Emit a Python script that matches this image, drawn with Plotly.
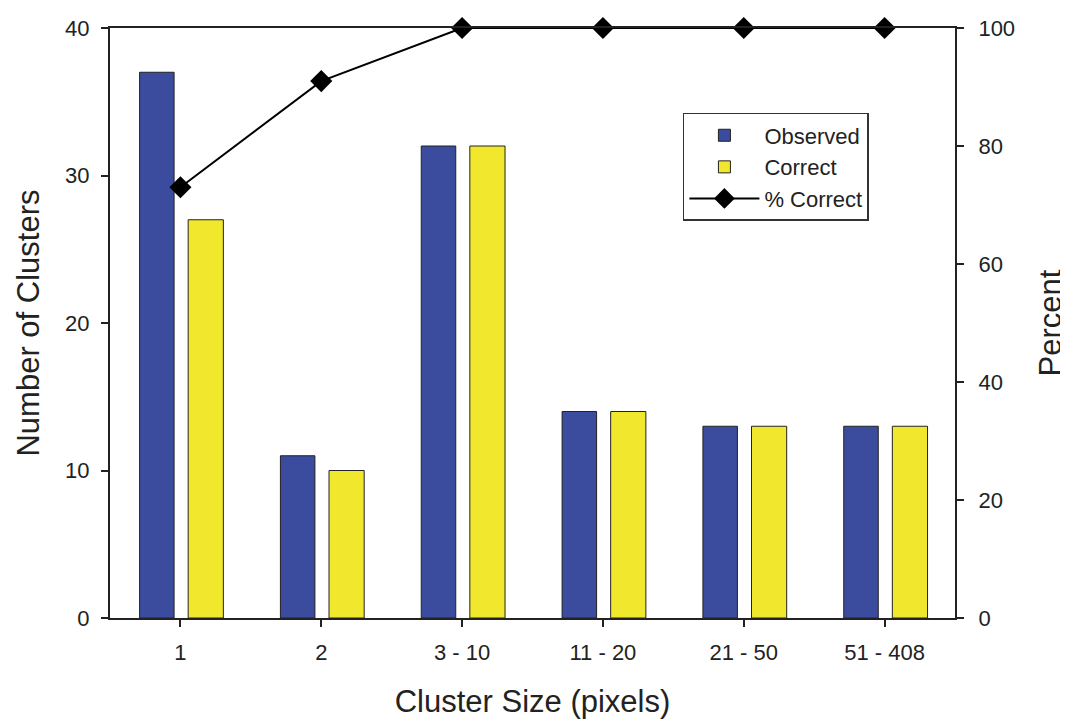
import plotly.graph_objects as go

categories = ["1", "2", "3 - 10", "11 - 20", "21 - 50", "51 - 408"]
observed = [37, 11, 32, 14, 13, 13]
correct = [27, 10, 32, 14, 13, 13]
pct_correct = [73, 91, 100, 100, 100, 100]

FONT = "Liberation Sans, Arial, sans-serif"
AX = "#222"

fig = go.Figure()
fig.add_trace(go.Bar(
    x=categories, y=observed, name="Observed",
    marker=dict(color="#3B4C9E", line=dict(color=AX, width=1)),
    width=0.245, offset=-0.29,
))
fig.add_trace(go.Bar(
    x=categories, y=correct, name="Correct",
    marker=dict(color="#F1E82E", line=dict(color=AX, width=1)),
    width=0.25, offset=0.055,
))
fig.add_trace(go.Scatter(
    x=categories, y=pct_correct, name="% Correct", yaxis="y2",
    mode="lines+markers", cliponaxis=False,
    line=dict(color="black", width=2),
    marker=dict(symbol="diamond", size=17, color="black"),
))

fig.update_layout(
    width=1060, height=711,
    margin=dict(l=102, r=113, t=20, b=101, autoexpand=False),
    paper_bgcolor="white", plot_bgcolor="white",
    font=dict(family=FONT, color="#222", size=22),
    barmode="overlay",
    showlegend=True,
    legend=dict(
        x=0.678, y=0.856, xanchor="left", yanchor="top",
        bordercolor="#333", borderwidth=1.5, bgcolor="white",
        font=dict(size=22), tracegroupgap=0, itemwidth=70,
        entrywidth=120, entrywidthmode="pixels",
    ),
    xaxis=dict(
        type="category", range=[-0.5, 5.5], automargin=False,
        showline=True, linecolor=AX, linewidth=2, mirror=True,
        ticks="outside", ticklen=7, tickcolor=AX, tickwidth=2,
        tickfont=dict(size=22), ticklabelstandoff=7,
        showgrid=False, zeroline=False,
        title=dict(text="Cluster Size (pixels)", font=dict(size=31), standoff=26),
    ),
    yaxis=dict(
        range=[0, 40], dtick=10, automargin=False,
        showline=True, linecolor=AX, linewidth=2,
        ticks="outside", ticklen=7, tickcolor=AX, tickwidth=2,
        tickfont=dict(size=22), ticklabelstandoff=7,
        showgrid=False, zeroline=False,
        title=dict(text="Number of Clusters", font=dict(size=31), standoff=16),
    ),
    yaxis2=dict(
        range=[0, 100], dtick=20, overlaying="y", side="right", automargin=False,
        showline=True, linecolor=AX, linewidth=2,
        ticks="outside", ticklen=7, tickcolor=AX, tickwidth=2,
        tickfont=dict(size=22), ticklabelstandoff=10,
        showgrid=False, zeroline=False,
        title=dict(text="Percent", font=dict(size=31), standoff=27),
    ),
)

fig.write_html("out.html")
